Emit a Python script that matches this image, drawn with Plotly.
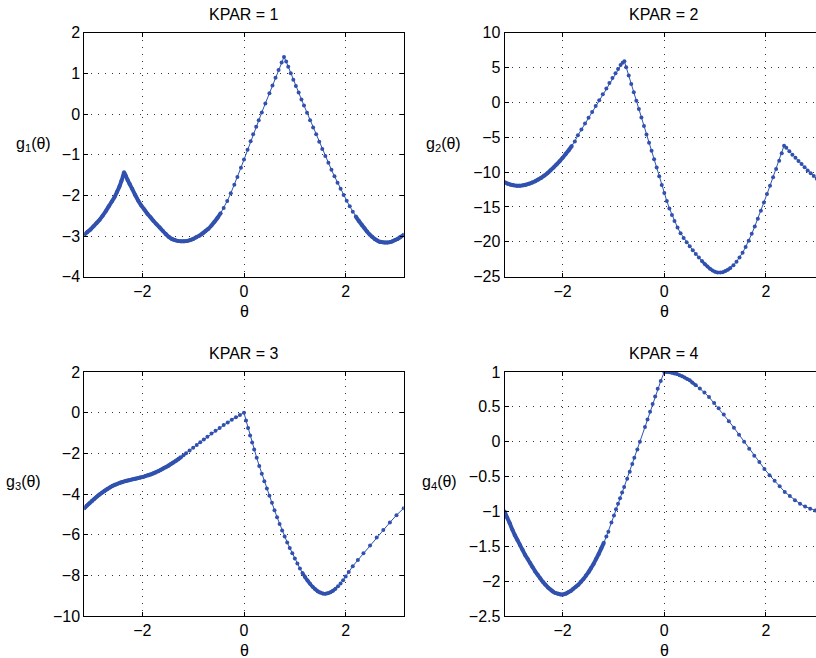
import plotly.graph_objects as go

# ---------------- data ----------------
th1 = [-3.1416, -3.08, -3.02, -2.96, -2.90, -2.84, -2.78, -2.72, -2.66, -2.60, -2.55, -2.50, -2.45, -2.41, -2.38, -2.36,
       -2.33, -2.29, -2.25, -2.20, -2.14, -2.08, -2.02, -1.96, -1.90, -1.84, -1.78, -1.72, -1.66, -1.60, -1.54, -1.48,
       -1.42, -1.36, -1.30, -1.24, -1.18, -1.12, -1.06, -1.00, -0.94, -0.88, -0.82, -0.76,
       -0.70, -0.64, -0.58, -0.52, -0.46, -0.40, -0.33, -0.26, -0.19, -0.13, -0.06, 0.00, 0.07, 0.13, 0.18, 0.24,
       0.29, 0.35, 0.42, 0.50, 0.56, 0.62, 0.68, 0.74, 0.787,
       0.83, 0.87, 0.92, 0.97, 1.02, 1.075, 1.13, 1.18, 1.24, 1.30, 1.36, 1.42, 1.48, 1.54, 1.60, 1.66, 1.72, 1.78,
       1.84, 1.90, 1.96, 2.02, 2.08, 2.14, 2.20, 2.26, 2.32,
       2.37, 2.42, 2.47, 2.52, 2.57, 2.62, 2.67, 2.72, 2.77, 2.82, 2.87, 2.92, 2.97, 3.02, 3.07, 3.1416]
g1 = [-2.97, -2.90, -2.84, -2.76, -2.68, -2.60, -2.50, -2.39, -2.27, -2.15, -2.05, -1.92, -1.78, -1.64, -1.53, -1.43,
      -1.51, -1.62, -1.72, -1.84, -1.99, -2.13, -2.25, -2.35, -2.45, -2.54, -2.63, -2.71, -2.79, -2.87, -2.95, -3.02,
      -3.07, -3.10, -3.12, -3.13, -3.13, -3.12, -3.10, -3.07, -3.03, -2.99, -2.94, -2.88,
      -2.82, -2.74, -2.65, -2.55, -2.44, -2.31, -2.14, -1.95, -1.74, -1.55, -1.32, -1.12, -0.88, -0.67, -0.50, -0.31,
      -0.15, 0.04, 0.26, 0.51, 0.70, 0.89, 1.08, 1.27, 1.40,
      1.29, 1.16, 1.00, 0.84, 0.69, 0.53, 0.36, 0.21, 0.03, -0.15, -0.33, -0.50, -0.68, -0.86, -1.03, -1.20, -1.37, -1.53,
      -1.69, -1.84, -1.99, -2.13, -2.27, -2.40, -2.52, -2.63, -2.73,
      -2.81, -2.89, -2.96, -3.02, -3.07, -3.11, -3.14, -3.15, -3.16, -3.16, -3.15, -3.13, -3.10, -3.07, -3.03, -2.97]

th2 = [-3.1416, -3.08, -3.02, -2.96, -2.90, -2.84, -2.78, -2.72, -2.66, -2.60, -2.54, -2.48, -2.42, -2.36, -2.30,
       -2.24, -2.18, -2.12, -2.06, -2.00, -1.94, -1.88, -1.82, -1.76,
       -1.70, -1.63, -1.56, -1.49, -1.42, -1.35, -1.28, -1.21, -1.14, -1.08, -1.02, -0.96, -0.91, -0.86, -0.82, -0.785,
       -0.75, -0.70, -0.65, -0.60, -0.55, -0.50, -0.45, -0.40, -0.35, -0.30, -0.25, -0.20, -0.15, -0.10, -0.05, 0.00,
       0.05, 0.10, 0.15, 0.20, 0.26, 0.32, 0.38, 0.44, 0.50, 0.56, 0.62, 0.68, 0.74,
       0.80, 0.85, 0.90, 0.95, 1.00, 1.05, 1.10, 1.15, 1.20, 1.25, 1.30,
       1.36, 1.42, 1.48, 1.54, 1.60, 1.66, 1.72, 1.78, 1.84, 1.90, 1.96, 2.02, 2.08, 2.14, 2.20, 2.26, 2.31, 2.356,
       2.40, 2.46, 2.52, 2.58, 2.64, 2.70, 2.76, 2.82, 2.88, 2.94, 3.00, 3.06, 3.1416]
g2 = [-11.45, -11.65, -11.8, -11.9, -11.95, -11.95, -11.9, -11.8, -11.65, -11.5, -11.3, -11.05, -10.8, -10.5, -10.15,
      -9.75, -9.35, -8.9, -8.45, -7.95, -7.4, -6.85, -6.25, -5.6,
      -4.72, -3.88, -3.04, -2.2, -1.36, -0.52, 0.32, 1.16, 2.0, 2.78, 3.5, 4.2, 4.8, 5.35, 5.7, 5.9,
      5.05, 3.85, 2.65, 1.45, 0.25, -0.95, -2.15, -3.4, -4.6, -5.8, -6.95, -8.15, -9.35, -10.6, -11.85, -13.0,
      -14.15, -15.2, -16.15, -17.0, -17.95, -18.75, -19.45, -20.05, -20.65, -21.2, -21.75, -22.25, -22.75,
      -23.2, -23.55, -23.85, -24.1, -24.3, -24.4, -24.4, -24.35, -24.2, -24.0, -23.75,
      -23.35, -22.85, -22.25, -21.55, -20.75, -19.85, -18.85, -17.8, -16.7, -15.55, -14.35, -13.15, -11.95, -10.75,
      -9.55, -8.35, -7.3, -6.2,
      -6.5, -7.0, -7.5, -7.95, -8.4, -8.85, -9.3, -9.75, -10.15, -10.55, -10.95, -11.2, -11.45]

th3 = [-3.1416, -3.09, -3.04, -2.99, -2.94, -2.89, -2.84, -2.79, -2.74, -2.69, -2.64, -2.59, -2.54, -2.49, -2.44,
       -2.39, -2.34, -2.29, -2.24, -2.19, -2.14, -2.09, -2.04, -1.99, -1.94, -1.89, -1.84, -1.79, -1.74, -1.69,
       -1.64, -1.59, -1.54, -1.49, -1.44, -1.39, -1.34, -1.29, -1.24, -1.19, -1.14,
       -1.07, -1.00, -0.93, -0.86, -0.79, -0.72, -0.64, -0.56, -0.48, -0.40, -0.32, -0.24, -0.16, -0.08, 0.00,
       0.04, 0.08, 0.12, 0.16, 0.20, 0.25, 0.30, 0.35, 0.40, 0.45, 0.50, 0.55, 0.60, 0.65, 0.70, 0.75, 0.80, 0.85,
       0.90, 0.95, 1.00,
       1.05, 1.10, 1.15, 1.20, 1.25, 1.30, 1.35, 1.40, 1.45, 1.50, 1.55, 1.60, 1.65, 1.70, 1.75, 1.80, 1.85, 1.90,
       1.95, 2.00, 2.06,
       2.14, 2.24, 2.35, 2.48, 2.61, 2.74, 2.87, 3.00, 3.1416]
g3 = [-4.70, -4.57, -4.45, -4.34, -4.23, -4.12, -4.02, -3.93, -3.84, -3.76, -3.68, -3.61, -3.55, -3.50, -3.45,
      -3.41, -3.37, -3.34, -3.31, -3.28, -3.25, -3.22, -3.19, -3.16, -3.12, -3.08, -3.04, -2.99, -2.94, -2.88,
      -2.82, -2.75, -2.68, -2.61, -2.53, -2.45, -2.37, -2.28, -2.19, -2.09, -1.99,
      -1.86, -1.73, -1.59, -1.45, -1.32, -1.18, -1.03, -0.89, -0.75, -0.61, -0.48, -0.35, -0.23, -0.11, 0.00,
      -0.38, -0.75, -1.12, -1.47, -1.81, -2.22, -2.62, -3.00, -3.37, -3.73, -4.08, -4.43, -4.80, -5.14, -5.47,
      -5.79, -6.09, -6.38, -6.65, -6.92, -7.17,
      -7.42, -7.66, -7.88, -8.08, -8.26, -8.42, -8.56, -8.68, -8.78, -8.85, -8.89, -8.90, -8.88, -8.83, -8.76,
      -8.66, -8.54, -8.40, -8.24, -8.06, -7.83,
      -7.55, -7.25, -6.92, -6.53, -6.14, -5.77, -5.40, -5.04, -4.70]

th4 = [-3.1416, -3.09, -3.04, -2.99, -2.94, -2.89, -2.84, -2.79, -2.74, -2.69, -2.64, -2.59, -2.54, -2.49, -2.44,
       -2.39, -2.34, -2.29, -2.24, -2.19, -2.14, -2.09, -2.04, -1.99, -1.94, -1.89, -1.84, -1.79, -1.74, -1.69,
       -1.64, -1.59, -1.54, -1.49, -1.44, -1.39, -1.34, -1.29, -1.24, -1.19,
       -1.14, -1.10, -1.04, -0.99, -0.95, -0.91, -0.87, -0.83, -0.79, -0.73, -0.68, -0.63, -0.59,
       -0.53, -0.48, -0.38, -0.33, -0.28, -0.23, -0.18, -0.13, -0.07, 0.00,
       0.05, 0.10, 0.15, 0.20, 0.25, 0.30, 0.35, 0.40, 0.45, 0.50, 0.55, 0.62, 0.70, 0.79, 0.88, 0.98, 1.07, 1.17,
       1.27, 1.37, 1.47, 1.57, 1.67, 1.77, 1.87, 1.97, 2.07, 2.17, 2.27, 2.37, 2.47, 2.57, 2.67, 2.77, 2.87, 2.97,
       3.07, 3.1416]
g4 = [-1.00, -1.09, -1.17, -1.26, -1.34, -1.41, -1.48, -1.55, -1.62, -1.68, -1.74, -1.80, -1.86, -1.91, -1.96,
      -2.01, -2.05, -2.09, -2.12, -2.15, -2.17, -2.18, -2.19, -2.19, -2.18, -2.16, -2.14, -2.11, -2.08, -2.05,
      -2.01, -1.97, -1.92, -1.87, -1.81, -1.75, -1.68, -1.61, -1.53, -1.45,
      -1.36, -1.29, -1.16, -1.06, -0.97, -0.89, -0.81, -0.73, -0.65, -0.53, -0.43, -0.32, -0.23,
      -0.11, 0.00, 0.21, 0.32, 0.43, 0.54, 0.65, 0.76, 0.87, 1.00,
      1.00, 0.995, 0.99, 0.98, 0.97, 0.955, 0.94, 0.92, 0.90, 0.88, 0.85, 0.81, 0.765, 0.705, 0.64, 0.555, 0.48,
      0.39, 0.295, 0.20, 0.10, 0.00, -0.10, -0.20, -0.29, -0.39, -0.48, -0.56, -0.64, -0.72, -0.78, -0.84, -0.89,
      -0.93, -0.96, -0.985, -1.0, -1.0]

titles = ["KPAR = 1", "KPAR = 2", "KPAR = 3", "KPAR = 4"]
ylabels = ["g<sub>1</sub>(θ)", "g<sub>2</sub>(θ)", "g<sub>3</sub>(θ)", "g<sub>4</sub>(θ)"]
xlabel = "θ"

xtick_vals = [-2, 0, 2]
xtick_text = ["−2", "0", "2"]
ytick_vals1 = [-4, -3, -2, -1, 0, 1, 2]
ytick_vals2 = [-25, -20, -15, -10, -5, 0, 5, 10]
ytick_vals3 = [-10, -8, -6, -4, -2, 0, 2]
ytick_vals4 = [-2.5, -2, -1.5, -1, -0.5, 0, 0.5, 1]


def fmt(v):
    return ("%g" % v).replace("-", "−")


# ---------------- figure ----------------
W, H = 816, 658
BLUE = "#3151AF"
FONT = "Liberation Sans, Arial, Helvetica, sans-serif"
FS = 16

series = [(th1, g1), (th2, g2), (th3, g3), (th4, g4)]
yticks = [ytick_vals1, ytick_vals2, ytick_vals3, ytick_vals4]
yranges = [[-4, 2], [-25, 10], [-10, 2], [-2.5, 1]]
# index slices where the reference's dots are so dense that they merge into a thick band
dense = [[(0, 16, 4), (15, 49, 4), (93, 112, 4)],
         [(0, 23, 4), (68, 80, 3)],
         [(0, 39, 4), (79, 93, 3.5)],
         [(0, 40, 4), (62, 75, 3)]]

PI = 3.14159265
# pixel boxes in the screenshot (left, right, top, bottom)
boxes = [(84.3, 403.7, 32.7, 276.7), (504.6, 816, 32.7, 276.7),
         (84.3, 403.7, 372, 616), (504.6, 816, 372, 616)]
xpx_per_unit = (403.7 - 84.3) / (2 * PI)


def fx(px):
    return px / W


def fy(py):
    return 1 - py / H


fig = go.Figure()
layout = dict(width=W, height=H, margin=dict(l=0, r=0, t=0, b=0),
              paper_bgcolor="white", plot_bgcolor="white", showlegend=False,
              font=dict(family=FONT, size=FS, color="black"))

for i, ((tx, gy), box) in enumerate(zip(series, boxes)):
    n = "" if i == 0 else str(i + 1)
    l, r, t, b = box
    right_cut = i in (1, 3)
    xmax = PI if not right_cut else -PI + (r - l) / xpx_per_unit
    for (a, z, w) in dense[i]:
        fig.add_trace(go.Scatter(x=tx[a:z], y=gy[a:z], mode="lines",
                                 line=dict(color=BLUE, width=w, shape="spline", smoothing=0.8),
                                 xaxis="x" + n, yaxis="y" + n, hoverinfo="skip"))
    fig.add_trace(go.Scatter(x=tx, y=gy, mode="lines+markers",
                             line=dict(color=BLUE, width=1),
                             marker=dict(color=BLUE, size=4),
                             xaxis="x" + n, yaxis="y" + n, hoverinfo="skip"))
    common = dict(ticks="inside", ticklen=4, tickcolor="black", showline=True, linecolor="black",
                  linewidth=1, showgrid=True, gridcolor="#333333", gridwidth=1, griddash="1px,6px",
                  zeroline=False, automargin=False,
                  tickfont=dict(family=FONT, size=FS, color="black"))
    layout["xaxis" + n] = dict(domain=[fx(l), min(1.0, fx(r))], range=[-PI, xmax], anchor="y" + n,
                               tickvals=xtick_vals, ticktext=xtick_text, mirror="ticks", **common)
    layout["yaxis" + n] = dict(domain=[fy(b), fy(t)], range=yranges[i], anchor="x" + n,
                               tickvals=yticks[i], ticktext=[fmt(v) for v in yticks[i]],
                               mirror=("ticks" if not right_cut else False), **common)

annotations = []
title_y = [14, 14, 353, 353]
xlabel_y = [311, 311, 650, 650]
ylabel_x = [52.7, 463.3, 43.3, 459.3]
ylabel_y = [144, 144, 482, 482]
for i, box in enumerate(boxes):
    l, r, t, b = box
    cx = l + (403.7 - 84.3) / 2
    annotations.append(dict(text=titles[i], x=fx(cx), y=fy(title_y[i]), xref="paper", yref="paper",
                            xanchor="center", yanchor="middle", showarrow=False,
                            font=dict(family=FONT, size=FS, color="black")))
    annotations.append(dict(text=xlabel, x=fx(cx), y=fy(xlabel_y[i]), xref="paper", yref="paper",
                            xanchor="center", yanchor="middle", showarrow=False,
                            font=dict(family=FONT, size=FS, color="black")))
    annotations.append(dict(text=ylabels[i], x=fx(ylabel_x[i]), y=fy(ylabel_y[i]), xref="paper",
                            yref="paper", xanchor="right", yanchor="middle", showarrow=False,
                            font=dict(family=FONT, size=FS, color="black")))
layout["annotations"] = annotations

fig.update_layout(**layout)
# remove the page's default body margin so the 816x658 figure fills the window exactly
fig.write_html("out.html", config={"displayModeBar": False},
               post_script="document.body.style.margin='0';"
                           "document.documentElement.style.overflow='hidden';")
